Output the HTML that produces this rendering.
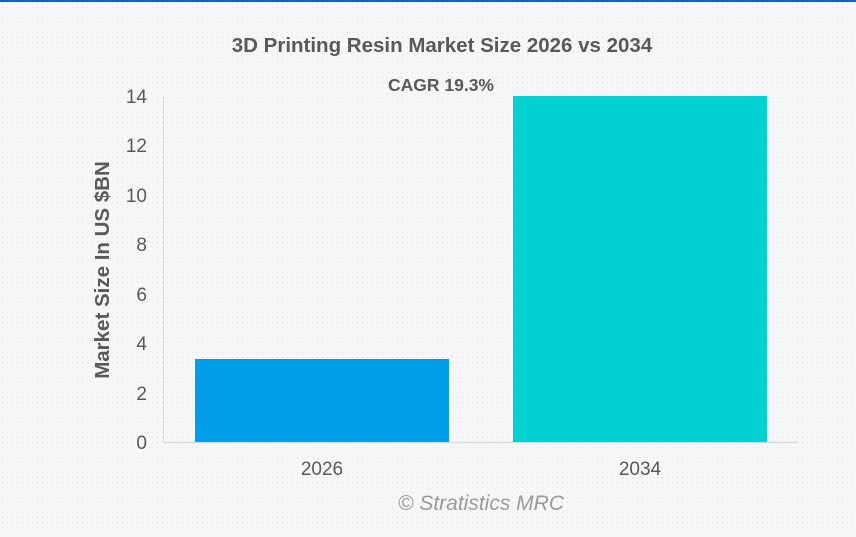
<!DOCTYPE html>
<html><head><meta charset="utf-8"><style>
html,body{margin:0;padding:0;}
body{width:856px;height:537px;overflow:hidden;background:#f4f5f7;font-family:"Liberation Sans",Arial,sans-serif;}
</style></head><body>
<svg width="856" height="537" xmlns="http://www.w3.org/2000/svg" style="display:block">
<defs><pattern id="d" width="5" height="5" patternUnits="userSpaceOnUse"><rect width="5" height="5" fill="#f6f7f9"/><rect x="2" y="2" width="1" height="1" fill="#e2e3e6"/></pattern></defs>
<rect width="856" height="537" fill="url(#d)"/>
<rect x="0" y="0" width="856" height="2" fill="#1565c0"/>
<text x="442" y="52" text-anchor="middle" font-size="20.5" font-weight="bold" fill="#595959">3D Printing Resin Market Size 2026 vs 2034</text>
<text x="441" y="91" text-anchor="middle" font-size="17.5" font-weight="bold" fill="#595959">CAGR 19.3%</text>
<line x1="163.5" y1="96" x2="163.5" y2="443" stroke="#d9d9d9" stroke-width="1"/>
<line x1="163" y1="442.5" x2="798" y2="442.5" stroke="#d9d9d9" stroke-width="1.5"/>
<g font-size="19" fill="#595959" text-anchor="end">
<text x="147" y="449">0</text><text x="147" y="400">2</text><text x="147" y="350">4</text><text x="147" y="301">6</text><text x="147" y="251">8</text><text x="147" y="202">10</text><text x="147" y="152">12</text><text x="147" y="103">14</text>
</g>
<rect x="195" y="359" width="254" height="83" fill="#019fe9"/>
<rect x="513" y="96" width="254" height="346" fill="#00d1d1"/>
<g font-size="19" fill="#595959" text-anchor="middle">
<text x="322" y="475">2026</text><text x="640" y="475">2034</text>
</g>
<text transform="translate(109,270) rotate(-90)" text-anchor="middle" font-size="20.5" font-weight="bold" fill="#595959">Market Size In US $BN</text>
<text x="481" y="510" text-anchor="middle" font-size="21" font-style="italic" fill="#9a9a9a">© Stratistics MRC</text>
</svg>
</body></html>
